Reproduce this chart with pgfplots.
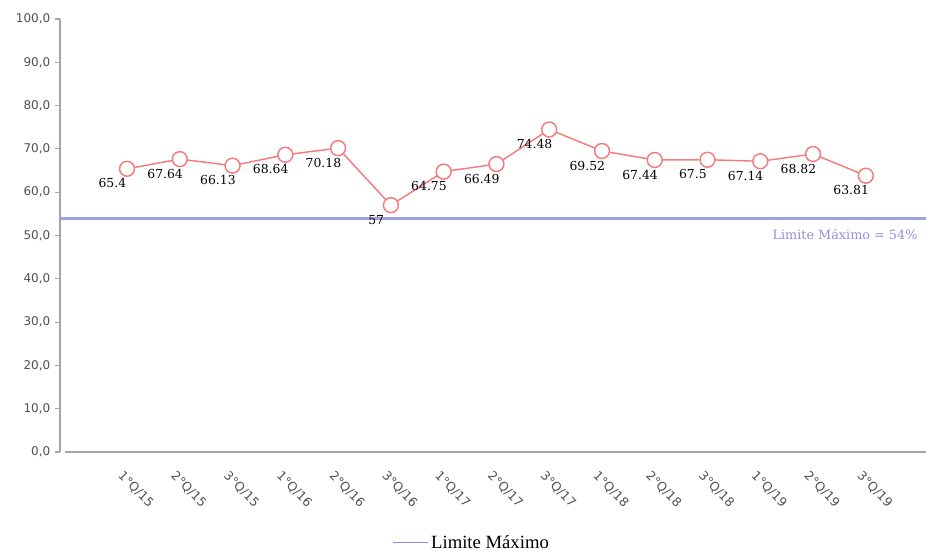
\documentclass[border=0pt]{standalone}
\usepackage{fontspec}
\setmainfont{Liberation Serif}
\newfontfamily\dvsans{DejaVu Sans}
\newfontfamily\dvserif{DejaVu Serif}
\usepackage{pgfplots}
\pgfplotsset{compat=1.18}
\definecolor{linered}{RGB}{244,124,124}
\definecolor{limblue}{RGB}{160,160,222}
\definecolor{legblue}{RGB}{140,140,235}
\definecolor{axgray}{RGB}{165,165,165}
\definecolor{tickgray}{RGB}{80,80,80}

\begin{document}
\begin{tikzpicture}
\useasboundingbox (-45pt,-75pt) rectangle (649.5pt,339pt);
\begin{axis}[
  scale only axis,
  width=649.5pt, height=324.75pt,
  xmin=-1.27, xmax=15.14,
  ymin=0, ymax=100,
  axis x line*=bottom, axis y line*=left,
  x axis line style={draw=axgray, line width=1.5pt, shorten <=3.75pt},
  y axis line style={draw=axgray, line width=0.8pt},
  xtick={0,...,14},
  xticklabels={1°Q/15,2°Q/15,3°Q/15,1°Q/16,2°Q/16,3°Q/16,1°Q/17,2°Q/17,3°Q/17,1°Q/18,2°Q/18,3°Q/18,1°Q/19,2°Q/19,3°Q/19},
  x tick label style={font=\dvsans\fontsize{9.3}{10}\selectfont, text=tickgray, rotate=-45, anchor=north west, xshift=2pt, yshift=-5pt},
  major x tick style={draw=none},
  ytick={0,10,...,100},
  tick align=outside,
  major tick length=3.75pt,
  major y tick style={draw=axgray, line width=0.8pt},
  y tick label style={font=\dvsans\fontsize{9}{10}\selectfont, text=tickgray,
    /pgf/number format/.cd, fixed, fixed zerofill, precision=1, use comma, assume math mode=true},
  legend style={at={(0.476,-0.21)}, anchor=center, draw=none, fill=none,
    font=\fontsize{14}{16}\selectfont},
  legend cell align=left,
]
\addplot[linered, line width=1.1pt, mark=*, mark size=5.6pt,
  mark options={fill=white, draw=linered, line width=1.1pt},
  nodes near coords, point meta=explicit symbolic,
  every node near coord/.append style={font=\dvserif\fontsize{9.3}{10}\selectfont, text=black,
    anchor=center, xshift=-11pt, yshift=-11pt},
  forget plot]
coordinates {
  (0,65.4) [65.4]
  (1,67.64) [67.64]
  (2,66.13) [66.13]
  (3,68.64) [68.64]
  (4,70.18) [70.18]
  (5,57) [57]
  (6,64.75) [64.75]
  (7,66.49) [66.49]
  (8,74.48) [74.48]
  (9,69.52) [69.52]
  (10,67.44) [67.44]
  (11,67.5) [67.5]
  (12,67.14) [67.14]
  (13,68.82) [68.82]
  (14,63.81) [63.81]
};
\addplot[limblue, line width=2.2pt,
  legend image code/.code={\draw[legblue, line width=0.7pt] (0pt,0pt) -- (26pt,0pt);}]
coordinates {(-1.27,54) (15.14,54)}
  node[pos=1, anchor=north east, xshift=-2pt, yshift=-4pt,
    font=\dvserif\fontsize{9.6}{10}\selectfont, text=limblue!90!blue] {Limite Máximo = 54\%};
\addlegendentry{Limite Máximo}
\end{axis}
\end{tikzpicture}
\end{document}
